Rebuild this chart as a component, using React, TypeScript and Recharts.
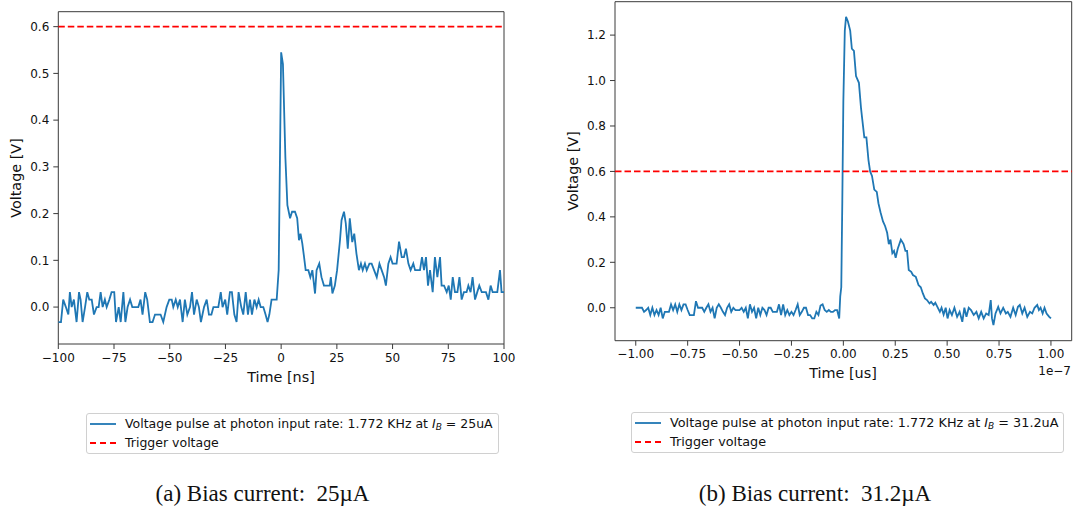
import { LineChart, Line, XAxis, YAxis, ReferenceLine, ReferenceArea } from 'recharts';

// (time, voltage) samples
// left: time in ns
const leftPulse: [number, number][] = [
  [-100, -0.032], [-98.8, -0.032], [-97.8, 0.016], [-96.6, 0], [-95.5, -0.016], [-94.8, 0.032], [-94, 0], [-93, 0.016], [-91.8, -0.032], [-90.7, 0.032],
  [-90, 0.016], [-89.1, -0.032], [-88, 0], [-87, 0.032], [-86.1, 0.016], [-85, 0.016], [-84, -0.016], [-82.8, 0], [-81.9, 0], [-81, 0.032],
  [-80.1, 0], [-79.1, 0.016], [-78.3, 0], [-77.1, 0.016], [-76.1, 0.032], [-74.9, 0.032], [-74.1, -0.032], [-72.9, 0], [-72, -0.032], [-70.8, 0.032],
  [-69.9, -0.032], [-68.9, 0], [-67.8, 0.016], [-66.8, 0], [-65.4, 0], [-64.1, 0], [-63.1, 0.016], [-62.2, -0.016], [-61, 0.032], [-60.1, 0.016],
  [-58.9, -0.032], [-57.7, -0.032], [-56.6, -0.016], [-55.1, -0.016], [-54.1, -0.016], [-52.9, -0.032], [-51.4, 0], [-50.2, 0.016], [-49.1, 0.016], [-48.4, 0],
  [-47.3, 0.016], [-46.4, 0], [-45.4, 0.016], [-44.2, -0.032], [-43.2, 0.016], [-42.1, -0.016], [-40.9, 0], [-40, 0.032], [-39.1, -0.016], [-37.9, 0.016],
  [-36.9, 0], [-36, -0.032], [-34.6, 0], [-33.4, 0.016], [-32.4, -0.016], [-31.3, -0.016], [-30.4, 0], [-29.2, 0], [-28.2, 0], [-27.1, 0.032],
  [-26.3, 0], [-25.1, 0.016], [-24.2, -0.016], [-23, 0.032], [-22.1, 0.032], [-21, -0.016], [-20, -0.032], [-19.1, 0.032], [-17.9, 0], [-17, -0.016],
  [-15.9, 0.032], [-14.9, -0.016], [-14, 0.016], [-13.1, -0.016], [-12, 0.016], [-11, 0], [-10.1, 0.016], [-9.2, 0], [-8, 0], [-7, -0.016],
  [-6.1, -0.032], [-5.3, -0.016], [-4.3, 0.016], [-3.2, 0.016], [-2, 0.016], [-1.1, 0.08], [0, 0.545], [0.8, 0.52], [1.9, 0.32], [2.8, 0.218],
  [4, 0.19], [4.9, 0.204], [6.2, 0.204], [7.2, 0.19], [8, 0.143], [8.7, 0.157], [9.5, 0.136], [10.1, 0.114], [11, 0.079], [12.2, 0.079],
  [13.1, 0.064], [14, 0.079], [15.2, 0.029], [15.9, 0.079], [17.1, 0.093], [18.1, 0.064], [19.2, 0.046], [20.2, 0.046], [21.8, 0.046], [22.3, 0.064],
  [23, 0.029], [24.1, 0.046], [25.1, 0.079], [26.4, 0.143], [27.1, 0.186], [28.2, 0.204], [29, 0.179], [29.9, 0.125], [30.8, 0.19], [31.9, 0.139],
  [32.8, 0.157], [33.8, 0.114], [34.9, 0.079], [35.8, 0.093], [36.6, 0.079], [37.6, 0.093], [38.4, 0.079], [39.6, 0.093], [40.6, 0.093], [41.7, 0.079],
  [42.9, 0.064], [44.1, 0.093], [45.1, 0.079], [46.2, 0.064], [47, 0.046], [48.1, 0.093], [49.1, 0.107], [50, 0.093], [51.8, 0.093], [52.9, 0.14],
  [54.1, 0.107], [55.1, 0.107], [56, 0.125], [57.1, 0.093], [58.1, 0.079], [59.3, 0.093], [60.1, 0.079], [62.3, 0.079], [63.2, 0.107], [64.1, 0.079],
  [65, 0.107], [65.9, 0.046], [66.8, 0.079], [68, 0.032], [69, 0.107], [70.1, 0.064], [71.3, 0.107], [72, 0.046], [73.1, 0.046], [74.3, 0.032],
  [75.2, 0.046], [76.1, 0.016], [77, 0.064], [78, 0.032], [79.1, 0.032], [80, 0.064], [81, 0.016], [82, 0.032], [83.2, 0.032], [84, 0.046],
  [85, 0.032], [85.9, 0.064], [87, 0.016], [88, 0.032], [88.9, 0.046], [90, 0.032], [91.9, 0.032], [93, 0.016], [94, 0.046], [94.9, 0.032],
  [97, 0.032], [98.2, 0.079], [98.9, 0.032], [100, 0.032],
];

// right: time in units of 1e-7 s
const rightPulse: [number, number][] = [
  [-1, 0], [-0.99, 0], [-0.98, 0], [-0.97, 0], [-0.96, -0.018], [-0.95, -0.01], [-0.94, 0], [-0.93, -0.032], [-0.92, 0], [-0.91, -0.032],
  [-0.9, -0.01], [-0.89, -0.032], [-0.88, 0], [-0.87, -0.047], [-0.86, -0.018], [-0.85, -0.018], [-0.84, -0.018], [-0.83, 0.015], [-0.82, -0.01], [-0.81, 0.015],
  [-0.8, -0.018], [-0.79, 0.015], [-0.78, -0.01], [-0.77, 0.015], [-0.76, 0.015], [-0.75, -0.01], [-0.74, -0.032], [-0.73, -0.032], [-0.72, -0.032], [-0.71, 0.029],
  [-0.7, 0], [-0.69, 0], [-0.68, 0], [-0.67, -0.018], [-0.66, 0], [-0.65, 0.015], [-0.64, -0.018], [-0.63, 0], [-0.62, -0.047], [-0.61, 0],
  [-0.6, 0.015], [-0.59, 0], [-0.58, -0.018], [-0.57, -0.032], [-0.56, 0], [-0.55, 0.015], [-0.54, -0.018], [-0.53, 0], [-0.52, -0.01], [-0.51, -0.01],
  [-0.5, -0.01], [-0.49, 0], [-0.48, -0.018], [-0.47, 0], [-0.46, -0.047], [-0.45, 0.015], [-0.44, -0.018], [-0.43, 0], [-0.42, -0.047], [-0.41, 0],
  [-0.4, -0.032], [-0.39, 0], [-0.38, -0.01], [-0.37, -0.032], [-0.36, 0], [-0.35, 0], [-0.34, -0.018], [-0.33, -0.018], [-0.32, -0.018], [-0.31, 0.015],
  [-0.3, -0.032], [-0.29, 0.015], [-0.28, -0.032], [-0.27, -0.01], [-0.26, -0.032], [-0.25, -0.018], [-0.24, -0.032], [-0.23, -0.01], [-0.22, 0.015], [-0.21, -0.032],
  [-0.2, -0.018], [-0.19, 0], [-0.18, 0], [-0.17, -0.032], [-0.16, -0.032], [-0.15, -0.047], [-0.14, -0.047], [-0.13, -0.018], [-0.12, -0.032], [-0.11, 0.01],
  [-0.1, 0.015], [-0.09, -0.01], [-0.08, -0.018], [-0.07, -0.01], [-0.06, -0.018], [-0.05, -0.018], [-0.04, -0.01], [-0.03, -0.01], [-0.02, -0.047], [-0.015, 0.05],
  [-0.01, 0.09], [-0.005, 0.47], [0, 0.91], [0.007, 1.22], [0.013, 1.28], [0.022, 1.26], [0.033, 1.22], [0.041, 1.14], [0.051, 1.13], [0.061, 1.02],
  [0.075, 0.99], [0.085, 0.88], [0.091, 0.83], [0.101, 0.75], [0.111, 0.75], [0.121, 0.65], [0.129, 0.6], [0.138, 0.58], [0.149, 0.52], [0.161, 0.51],
  [0.169, 0.46], [0.179, 0.42], [0.191, 0.38], [0.201, 0.36], [0.211, 0.33], [0.219, 0.28], [0.227, 0.3], [0.236, 0.24], [0.244, 0.25], [0.252, 0.22],
  [0.262, 0.26], [0.277, 0.3], [0.29, 0.28], [0.299, 0.25], [0.307, 0.25], [0.315, 0.166], [0.327, 0.158], [0.335, 0.144], [0.349, 0.136], [0.362, 0.1],
  [0.373, 0.09], [0.383, 0.063], [0.393, 0.041], [0.403, 0.034], [0.415, 0.019], [0.423, 0.026], [0.435, 0.012], [0.443, 0.022], [0.453, 0.004], [0.465, -0.018],
  [0.473, 0], [0.483, -0.03], [0.493, 0], [0.502, -0.047], [0.512, -0.01], [0.523, -0.032], [0.535, 0], [0.548, -0.04], [0.56, -0.018], [0.573, -0.062],
  [0.583, 0], [0.593, -0.04], [0.604, 0], [0.615, -0.01], [0.628, -0.032], [0.641, -0.018], [0.652, -0.047], [0.664, -0.018], [0.676, -0.047], [0.688, -0.025],
  [0.7, -0.032], [0.71, 0.034], [0.716, -0.047], [0.723, -0.076], [0.733, -0.025], [0.746, 0.004], [0.757, -0.025], [0.77, 0], [0.783, -0.025], [0.792, -0.018],
  [0.805, -0.04], [0.818, 0], [0.83, -0.032], [0.841, 0.004], [0.85, 0.012], [0.862, -0.025], [0.873, 0], [0.886, -0.04], [0.899, -0.018], [0.91, -0.025],
  [0.921, 0], [0.934, 0.012], [0.942, -0.01], [0.95, 0], [0.96, -0.025], [0.969, 0], [0.979, -0.025], [0.992, -0.04], [1, -0.047],
];

const triggerVoltage = 0.6;

const leftXTicks = [-100, -75, -50, -25, 0, 25, 50, 75, 100];
const leftYTicks = [0, 0.1, 0.2, 0.3, 0.4, 0.5, 0.6];
const rightXTicks = [-1, -0.75, -0.5, -0.25, 0, 0.25, 0.5, 0.75, 1];
const rightYTicks = [0, 0.2, 0.4, 0.6, 0.8, 1.0, 1.2];

const BLUE = '#1f77b4';
const RED = '#ff0000';
const SANS = '"DejaVu Sans", sans-serif';
const SPINE = '#3a3a3a';

const fmt = (d: number) => (v: number) => v.toFixed(d).replace('-', '\u2212');

type PanelProps = {
  pulse: [number, number][];
  xDomain: [number, number];
  yDomain: [number, number];
  xTicks: number[];
  yTicks: number[];
  xDigits: number;
  left: number;
  width: number;
  margin: { top: number; right: number; bottom: number; left: number };
};

function Panel({ pulse, xDomain, yDomain, xTicks, yTicks, xDigits, left, width, margin }: PanelProps) {
  const data = pulse.map(([t, v]) => ({ t, v }));
  const tickStyle = { fill: '#111', fontSize: 12, fontFamily: SANS };
  return (
    <div style={{ position: 'absolute', left, top: 0 }}>
      <LineChart width={width} height={400} data={data} margin={margin}>
        <XAxis
          dataKey="t" type="number" domain={xDomain} ticks={xTicks} allowDataOverflow
          tickFormatter={fmt(xDigits)} tick={tickStyle} tickSize={5} tickMargin={4}
          axisLine={false} tickLine={{ stroke: SPINE }} height={20} interval={0}
        />
        <YAxis
          type="number" domain={yDomain} ticks={yTicks} allowDataOverflow
          tickFormatter={fmt(1)} tick={tickStyle} tickSize={5} tickMargin={4}
          axisLine={false} tickLine={{ stroke: SPINE }} width={50} interval={0}
        />
        <Line type="linear" dataKey="v" stroke={BLUE} strokeWidth={1.8} dot={false} isAnimationActive={false} />
        <ReferenceLine y={triggerVoltage} stroke={RED} strokeWidth={1.8} strokeDasharray="6.5 3" />
        <ReferenceArea x1={xDomain[0]} x2={xDomain[1]} y1={yDomain[0]} y2={yDomain[1]} fill="none" stroke={SPINE} strokeWidth={1} fillOpacity={0} />
      </LineChart>
    </div>
  );
}

function Text({ x, y, children, rotate, size = 14.4, anchor = 'center', font = SANS }: any) {
  const tx = anchor === 'center' ? '-50%' : anchor === 'right' ? '-100%' : '0';
  return (
    <div style={{
      position: 'absolute', left: x, top: y, whiteSpace: 'nowrap', fontFamily: font, fontSize: size,
      color: '#111', lineHeight: 1, transform: `translate(${tx}, -50%)${rotate ? ` rotate(${rotate}deg)` : ''}`,
      transformOrigin: anchor === 'center' ? '50% 50%' : undefined,
    }}>{children}</div>
  );
}

function LegendBox({ x, y, current, size }: { x: number; y: number; current: string; size: number }) {
  const row = { display: 'flex', alignItems: 'center', height: 15, lineHeight: '15px' };
  return (
    <div style={{
      position: 'absolute', left: x, top: y, border: '1px solid #d0d0d0', borderRadius: 3,
      padding: '2px 5px 3px 3px', fontFamily: SANS, fontSize: size, color: '#111', background: '#fff', whiteSpace: 'nowrap',
    }}>
      <div style={row}>
        <svg width={26} height={6} style={{ marginRight: 9 }}><line x1={0} x2={26} y1={3} y2={3} stroke={BLUE} strokeWidth={1.8} /></svg>
        <span>Voltage pulse at photon input rate: 1.772 KHz at <i>I</i><sub style={{ fontSize: 9, fontStyle: 'italic', lineHeight: 0, verticalAlign: '-2px' }}>B</sub> = {current}</span>
      </div>
      <div style={{ ...row, marginTop: 4 }}>
        <svg width={26} height={6} style={{ marginRight: 9 }}><line x1={0} x2={26} y1={3} y2={3} stroke={RED} strokeWidth={1.8} strokeDasharray="6 4" /></svg>
        <span>Trigger voltage</span>
      </div>
    </div>
  );
}

export default function App() {
  return (
    <div style={{ position: 'absolute', left: 0, top: 0, width: 1078, height: 508, background: '#fff', overflow: 'hidden' }}>
      <Panel
        pulse={leftPulse} xDomain={[-100, 100]} yDomain={[-0.079, 0.632]} xTicks={leftXTicks} yTicks={leftYTicks} xDigits={0}
        left={0} width={520} margin={{ top: 11.7, right: 16, bottom: 36, left: 8.3 }}
      />
      <Panel
        pulse={rightPulse} xDomain={[-1.1, 1.1]} yDomain={[-0.145, 1.347]} xTicks={rightXTicks} yTicks={rightYTicks} xDigits={2}
        left={540} width={538} margin={{ top: 1.7, right: 6.3, bottom: 39.3, left: 25 }}
      />

      <Text x={281} y={376.5}>Time [ns]</Text>
      <Text x={16} y={178} rotate={-90}>Voltage [V]</Text>
      <Text x={843} y={373}>Time [us]</Text>
      <Text x={573} y={171} rotate={-90}>Voltage [V]</Text>
      <Text x={1071} y={371} size={12} anchor="right">1e{'\u2212'}7</Text>

      <LegendBox x={86} y={413} current="25uA" size={12.5} />
      <LegendBox x={631} y={412} current="31.2uA" size={12.8} />

      <Text x={262.5} y={493} size={23} font='"Liberation Serif", serif'>(a) Bias current:{'\u2002'}25µA</Text>
      <Text x={815} y={493} size={23} font='"Liberation Serif", serif'>(b) Bias current:{'\u2002'}31.2µA</Text>
    </div>
  );
}
